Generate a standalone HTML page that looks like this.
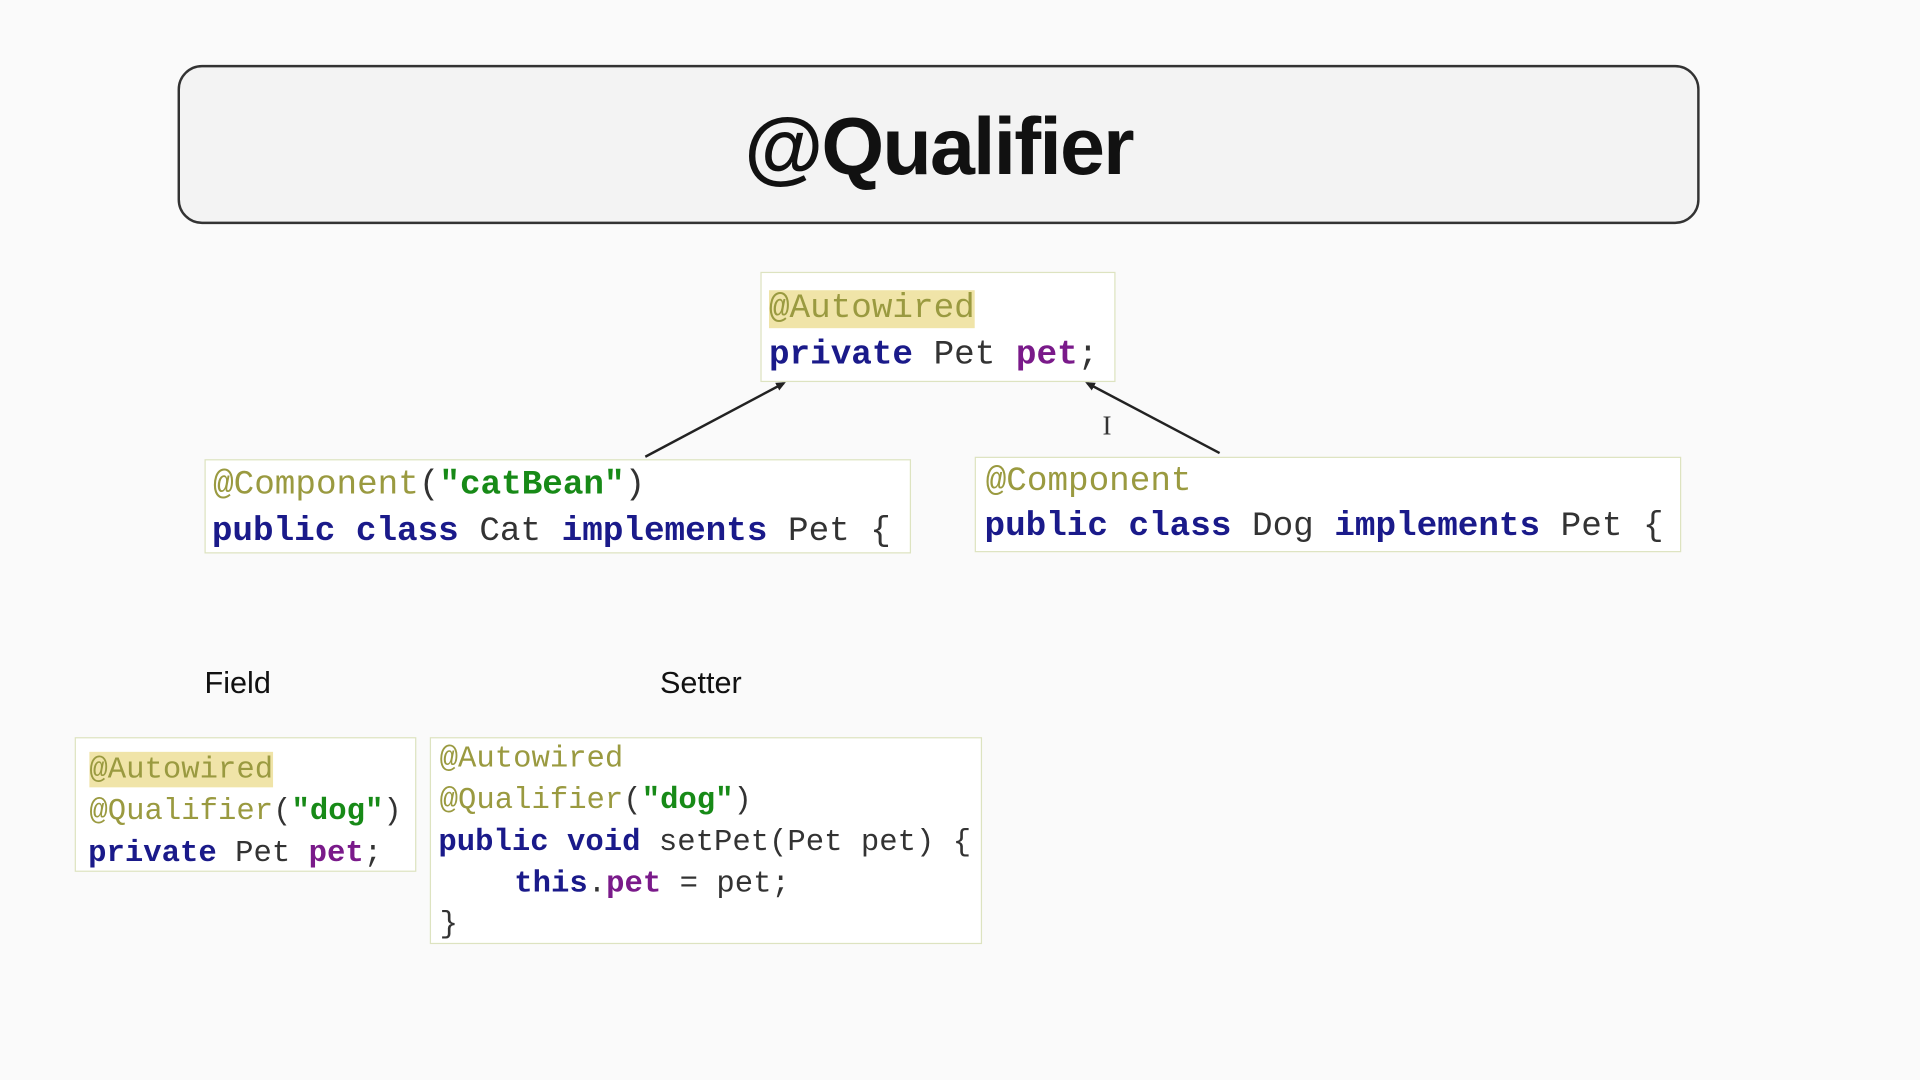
<!DOCTYPE html>
<html><head><meta charset="utf-8"><style>
html,body{margin:0;padding:0;width:1920px;height:1080px;overflow:hidden;background:#fafafa}
#s{position:absolute;left:0;top:0;width:1568px;height:882px;transform:scale(1.2245);transform-origin:0 0;background:#fafafa}
.a{position:absolute}
.box{position:absolute;border:1.5px solid #dde3c0;background:#fff;box-sizing:border-box}
.c{position:absolute;font-family:"Liberation Mono",monospace;white-space:pre;line-height:1}
.an{color:#9a9a40}
.k{color:#1a1a8a;font-weight:bold}
.s{color:#178a17;font-weight:bold}
.f{color:#7a1a8a;font-weight:bold}
.n{color:#333}
.h{background:#f0e4a8}
</style></head><body><div id="s">
<div class="a" style="left:145px;top:53px;width:1243px;height:130px;border:2px solid #333;border-radius:20px;background:#f3f3f3;box-sizing:border-box"></div>
<div class="a" style="left:145px;top:81px;width:1243px;text-align:center;font:bold 66px 'Liberation Sans',sans-serif;color:#111;letter-spacing:-1.5px">@Qualifier</div>

<div class="box" style="left:621px;top:222px;width:290px;height:90px"></div>
<div class="c" style="left:628px;top:239px;font-size:28px"><span class="an h">@Autowired</span></div>
<div class="c" style="left:628px;top:277px;font-size:28px"><span class="k">private</span> <span class="n">Pet</span> <span class="f">pet</span><span class="n">;</span></div>

<div class="box" style="left:167px;top:375px;width:577px;height:77px"></div>
<div class="c" style="left:174px;top:383px;font-size:28px"><span class="an">@Component</span><span class="n">(</span><span class="s">"catBean"</span><span class="n">)</span></div>
<div class="c" style="left:173px;top:421px;font-size:28px"><span class="k">public class</span> <span class="n">Cat</span> <span class="k">implements</span> <span class="n">Pet {</span></div>

<div class="box" style="left:796px;top:373px;width:577px;height:78px"></div>
<div class="c" style="left:805px;top:380px;font-size:28px"><span class="an">@Component</span></div>
<div class="c" style="left:804px;top:417px;font-size:28px"><span class="k">public class</span> <span class="n">Dog</span> <span class="k">implements</span> <span class="n">Pet {</span></div>

<svg class="a" style="left:0;top:0" width="1568" height="882">
<defs><marker id="m" markerWidth="8" markerHeight="8" refX="6" refY="4" orient="auto" markerUnits="userSpaceOnUse"><path d="M0,0.5 L8,4 L0,7.5 Z" fill="#222"/></marker></defs>
<line x1="527" y1="373" x2="640" y2="313" stroke="#222" stroke-width="2" marker-end="url(#m)"/>
<line x1="996" y1="370" x2="888" y2="313" stroke="#222" stroke-width="2" marker-end="url(#m)"/>
<text x="904" y="355" font-family="Liberation Serif" font-size="22" fill="#333" text-anchor="middle">I</text>
</svg>

<div class="a" style="left:167px;top:544px;font:25px 'Liberation Sans',sans-serif;color:#111">Field</div>
<div class="a" style="left:539px;top:544px;font:25px 'Liberation Sans',sans-serif;color:#111">Setter</div>

<div class="box" style="left:61px;top:602px;width:279px;height:110px"></div>
<div class="c" style="left:73px;top:616px;font-size:25px"><span class="an h">@Autowired</span></div>
<div class="c" style="left:73px;top:650px;font-size:25px"><span class="an">@Qualifier</span><span class="n">(</span><span class="s">"dog"</span><span class="n">)</span></div>
<div class="c" style="left:72px;top:684px;font-size:25px"><span class="k">private</span> <span class="n">Pet</span> <span class="f">pet</span><span class="n">;</span></div>

<div class="box" style="left:351px;top:602px;width:451px;height:169px"></div>
<div class="c" style="left:359px;top:607px;font-size:25px"><span class="an">@Autowired</span></div>
<div class="c" style="left:359px;top:641px;font-size:25px"><span class="an">@Qualifier</span><span class="n">(</span><span class="s">"dog"</span><span class="n">)</span></div>
<div class="c" style="left:358px;top:675px;font-size:25px"><span class="k">public void</span> <span class="n">setPet(Pet pet) {</span></div>
<div class="c" style="left:420px;top:709px;font-size:25px"><span class="k">this</span><span class="n">.</span><span class="f">pet</span> <span class="n">= pet;</span></div>
<div class="c" style="left:359px;top:742px;font-size:25px"><span class="n">}</span></div>
</div></body></html>
